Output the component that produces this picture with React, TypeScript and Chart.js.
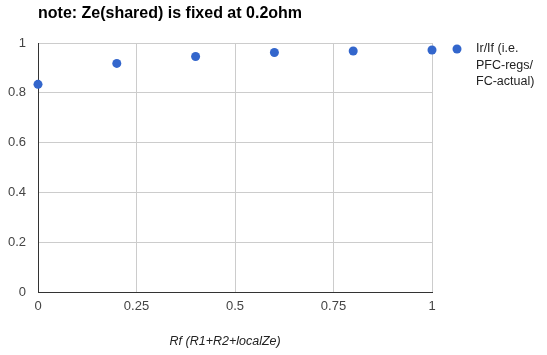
import React, { useEffect, useRef } from 'react';
import { Chart, registerables } from 'chart.js';

Chart.register(...registerables);

const chartTitle = 'note: Ze(shared) is fixed at 0.2ohm';
const xAxisTitle = 'Rf (R1+R2+localZe)';
const seriesLabelLines = ['Ir/If (i.e.', 'PFC-regs/', 'FC-actual)'];
const rfValues = [0, 0.2, 0.4, 0.6, 0.8, 1];
const ratioValues = [0.834, 0.918, 0.946, 0.962, 0.968, 0.972];
const xTickStep = 0.25;
const yTickStep = 0.2;

const FONT = '"Liberation Sans", Arial, sans-serif';
const POINT_COLOR = '#3366CC';

const fmt = (v: any) => String(Math.round(Number(v) * 1000) / 1000);

const overlayPlugin = {
  id: 'overlay',
  afterDraw(chart: any) {
    const ctx = chart.ctx as CanvasRenderingContext2D;
    const a = chart.chartArea;
    ctx.save();
    // Chart title
    ctx.fillStyle = '#000';
    ctx.font = `bold 16px ${FONT}`;
    ctx.textAlign = 'left';
    ctx.textBaseline = 'middle';
    ctx.fillText(chartTitle, a.left, 14);
    // X axis title
    ctx.font = `italic 12.5px ${FONT}`;
    ctx.fillStyle = '#222';
    ctx.textAlign = 'center';
    ctx.fillText(xAxisTitle, a.left + (a.right - a.left) * 0.475, a.bottom + 50);
    // Legend
    const lx = a.right + 25;
    const ly = a.top + 6;
    ctx.fillStyle = POINT_COLOR;
    ctx.beginPath();
    ctx.arc(lx, ly, 4.5, 0, Math.PI * 2);
    ctx.fill();
    ctx.fillStyle = '#222';
    ctx.font = `12.5px ${FONT}`;
    ctx.textAlign = 'left';
    seriesLabelLines.forEach((line, i) => {
      ctx.fillText(line, lx + 19, ly + i * 16.5);
    });
    ctx.restore();
  },
};

export default function App() {
  const canvasRef = useRef<HTMLCanvasElement | null>(null);

  useEffect(() => {
    document.body.style.margin = '0';
    const canvas = canvasRef.current;
    if (!canvas) return;
    const chart = new Chart(canvas, {
      type: 'scatter',
      data: {
        datasets: [
          {
            label: seriesLabelLines.join(' '),
            data: rfValues.map((x, i) => ({ x, y: ratioValues[i] })),
            backgroundColor: POINT_COLOR,
            borderColor: POINT_COLOR,
            pointRadius: 4.5,
            pointHoverRadius: 4.5,
            borderWidth: 0,
            clip: false as any,
          },
        ],
      },
      options: {
        responsive: false,
        animation: false,
        devicePixelRatio: 1,
        layout: { padding: { top: 43, right: 115, bottom: 0, left: 0 } },
        plugins: {
          legend: { display: false },
          title: { display: false },
          tooltip: { enabled: false },
        },
        scales: {
          x: {
            type: 'linear',
            min: 0,
            max: 1,
            afterFit: (s: any) => {
              s.height = 63;
            },
            ticks: {
              stepSize: xTickStep,
              color: '#444',
              font: { family: FONT, size: 13 },
              padding: 7,
              maxRotation: 0,
              callback: fmt,
            },
            grid: { color: '#ccc', drawTicks: false },
            border: { color: '#333', width: 1 },
          },
          y: {
            type: 'linear',
            min: 0,
            max: 1,
            afterFit: (s: any) => {
              s.width = 38;
            },
            ticks: {
              stepSize: yTickStep,
              color: '#444',
              font: { family: FONT, size: 13 },
              padding: 12,
              callback: fmt,
            },
            grid: { color: '#ccc', drawTicks: false },
            border: { color: '#333', width: 1 },
          },
        },
      },
      plugins: [overlayPlugin],
    });
    return () => chart.destroy();
  }, []);

  return (
    <div style={{ position: 'absolute', left: 0, top: 0, width: 547, height: 355, background: '#fff' }}>
      <canvas ref={canvasRef} width={547} height={355} style={{ width: 547, height: 355 }} />
    </div>
  );
}
